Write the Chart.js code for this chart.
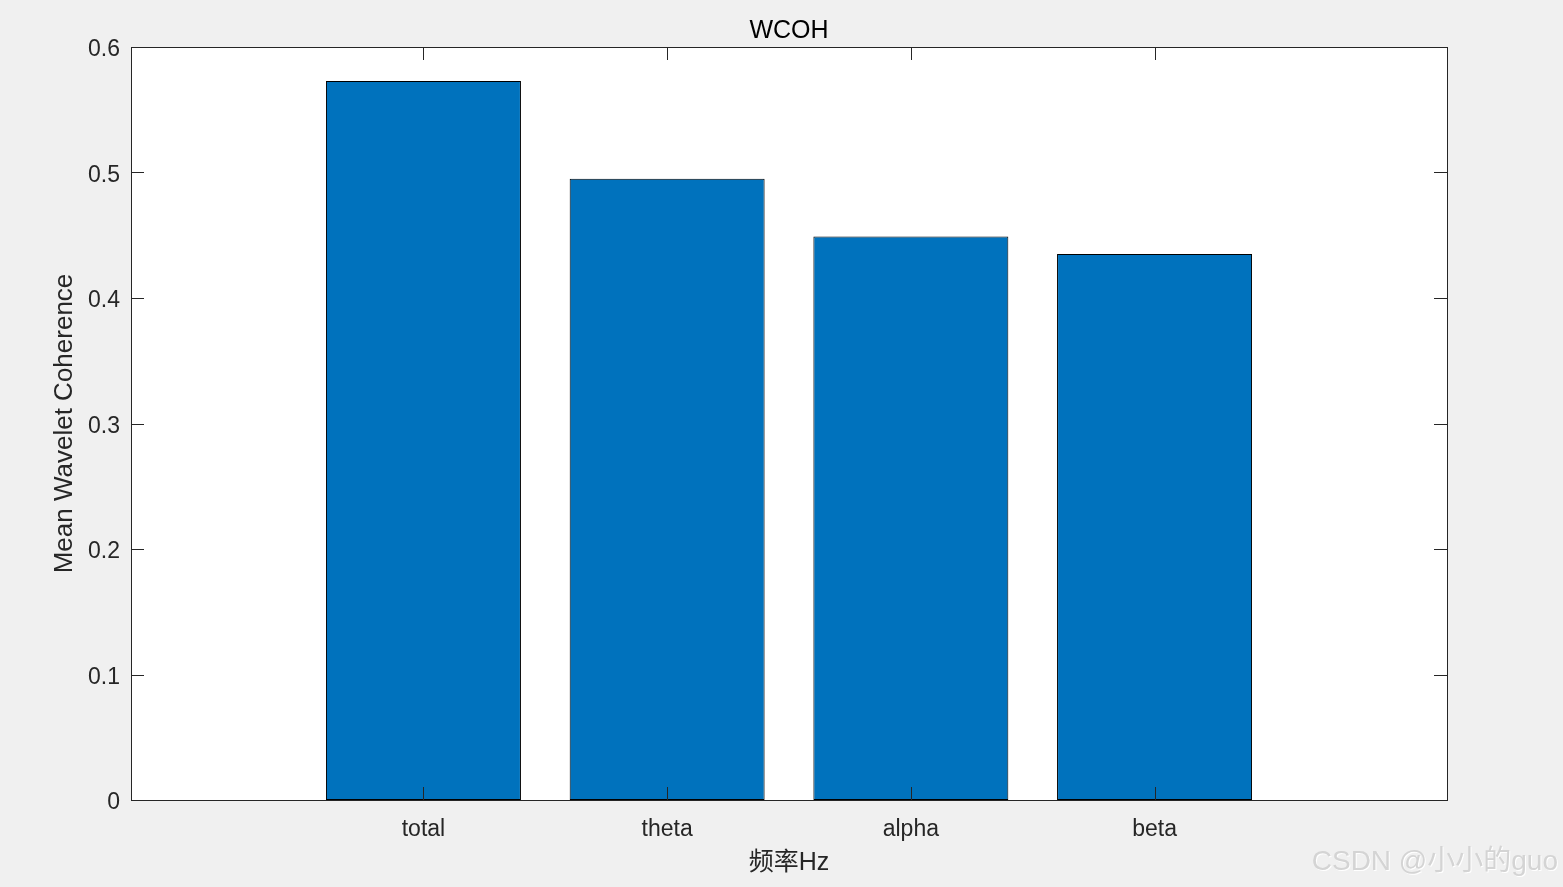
<!DOCTYPE html>
<html>
<head>
<meta charset="utf-8">
<script src="https://cdn.jsdelivr.net/npm/chart.js@4/dist/chart.umd.min.js"></script>
<style>
  html, body { margin: 0; padding: 0; background: #f0f0f0; }
  canvas { display: block; }
</style>
</head>
<body>
<canvas id="wcohChart" width="1563" height="887"></canvas>
<script>
// data
const bands = ["total", "theta", "alpha", "beta"];
const bandPos = [1, 2, 3, 4];
const meanCoh = [0.573, 0.495, 0.449, 0.435];
const yTicks = [0, 0.1, 0.2, 0.3, 0.4, 0.5, 0.6];

const axisColor = "#262626";
const fontFamily = "'Liberation Sans', Arial, sans-serif";

// white plot box + grey figure background
const backgroundPlugin = {
  id: "bg",
  beforeDraw(chart) {
    const ctx = chart.ctx;
    const a = chart.chartArea;
    ctx.save();
    ctx.fillStyle = "#f0f0f0";
    ctx.fillRect(0, 0, chart.width, chart.height);
    ctx.fillStyle = "#ffffff";
    ctx.fillRect(a.left, a.top, a.right - a.left, a.bottom - a.top);
    ctx.restore();
  }
};

// matlab style box with inward ticks on all four sides, title over the axes
const boxPlugin = {
  id: "box",
  afterDatasetsDraw(chart) {
    const ctx = chart.ctx;
    const a = chart.chartArea;
    const xs = chart.scales.x;
    const ys = chart.scales.y;
    const len = 13;
    ctx.save();
    ctx.strokeStyle = axisColor;
    ctx.lineWidth = 1;
    ctx.beginPath();
    yTicks.forEach(v => {
      const py = Math.round(ys.getPixelForValue(v)) + 0.5;
      ctx.moveTo(a.left, py); ctx.lineTo(a.left + len, py);
      ctx.moveTo(a.right, py); ctx.lineTo(a.right - len, py);
    });
    bandPos.forEach(v => {
      const px = Math.round(xs.getPixelForValue(v)) + 0.5;
      ctx.moveTo(px, a.top); ctx.lineTo(px, a.top + len);
      ctx.moveTo(px, a.bottom); ctx.lineTo(px, a.bottom - len);
    });
    ctx.stroke();
    ctx.strokeRect(Math.round(a.left) + 0.5, Math.round(a.top) + 0.5,
      Math.round(a.right - a.left), Math.round(a.bottom - a.top));

    ctx.fillStyle = "#000000";
    ctx.font = "25px " + fontFamily;
    ctx.textAlign = "center";
    ctx.textBaseline = "middle";
    ctx.fillText("WCOH", (a.left + a.right) / 2, 31);
    ctx.restore();
  },
  afterDraw(chart) {
    // watermark
    const ctx = chart.ctx;
    ctx.save();
    ctx.font = "28px 'Liberation Sans', 'Noto Sans CJK SC', sans-serif";
    ctx.textAlign = "right";
    ctx.textBaseline = "alphabetic";
    ctx.fillStyle = "#ffffff";
    ctx.fillText("CSDN @小小的guo", 1559, 871);
    ctx.fillStyle = "#d4d4d4";
    ctx.fillText("CSDN @小小的guo", 1558, 870);
    ctx.restore();
  }
};

new Chart(document.getElementById("wcohChart"), {
  type: "bar",
  data: {
    datasets: [{
      data: bands.map((b, i) => ({ x: bandPos[i], y: meanCoh[i] })),
      backgroundColor: "#0072bd",
      borderColor: "#000000",
      borderWidth: 1,
      borderSkipped: false,
      barPercentage: 0.8,
      categoryPercentage: 1.0
    }]
  },
  options: {
    responsive: false,
    animation: false,
    layout: { padding: { left: 0, right: 116, top: 47, bottom: 0 } },
    plugins: {
      legend: { display: false },
      tooltip: { enabled: false },
      title: { display: false }
    },
    scales: {
      x: {
        type: "linear",
        min: -0.2,
        max: 5.2,
        offset: false,
        afterBuildTicks(scale) {
          scale.ticks = bandPos.map(v => ({ value: v }));
        },
        afterFit(scale) { scale.height = 87; },
        grid: { display: false, drawTicks: false },
        border: { display: false },
        ticks: {
          color: axisColor,
          padding: 16,
          maxRotation: 0,
          autoSkip: false,
          font: { family: fontFamily, size: 23 },
          callback: v => {
            const i = bandPos.indexOf(v);
            return i >= 0 ? bands[i] : "";
          }
        },
        title: {
          display: true,
          text: "频率Hz",
          color: axisColor,
          font: { family: "'Liberation Sans', 'Noto Sans CJK SC', sans-serif", size: 25 },
          padding: { top: 0, bottom: 9 }
        }
      },
      y: {
        min: 0,
        max: 0.6,
        afterBuildTicks(scale) {
          scale.ticks = yTicks.map(v => ({ value: v }));
        },
        afterFit(scale) { scale.width = 131; },
        grid: { display: false, drawTicks: false },
        border: { display: false },
        ticks: {
          color: axisColor,
          padding: 11,
          labelOffset: 3,
          font: { family: fontFamily, size: 23 },
          callback: v => String(Math.round(v * 10) / 10)
        },
        title: {
          display: true,
          text: "Mean Wavelet Coherence",
          color: axisColor,
          font: { family: fontFamily, size: 26 },
          padding: { top: 49, bottom: 0 }
        }
      }
    }
  },
  plugins: [backgroundPlugin, boxPlugin]
});
</script>
</body>
</html>
